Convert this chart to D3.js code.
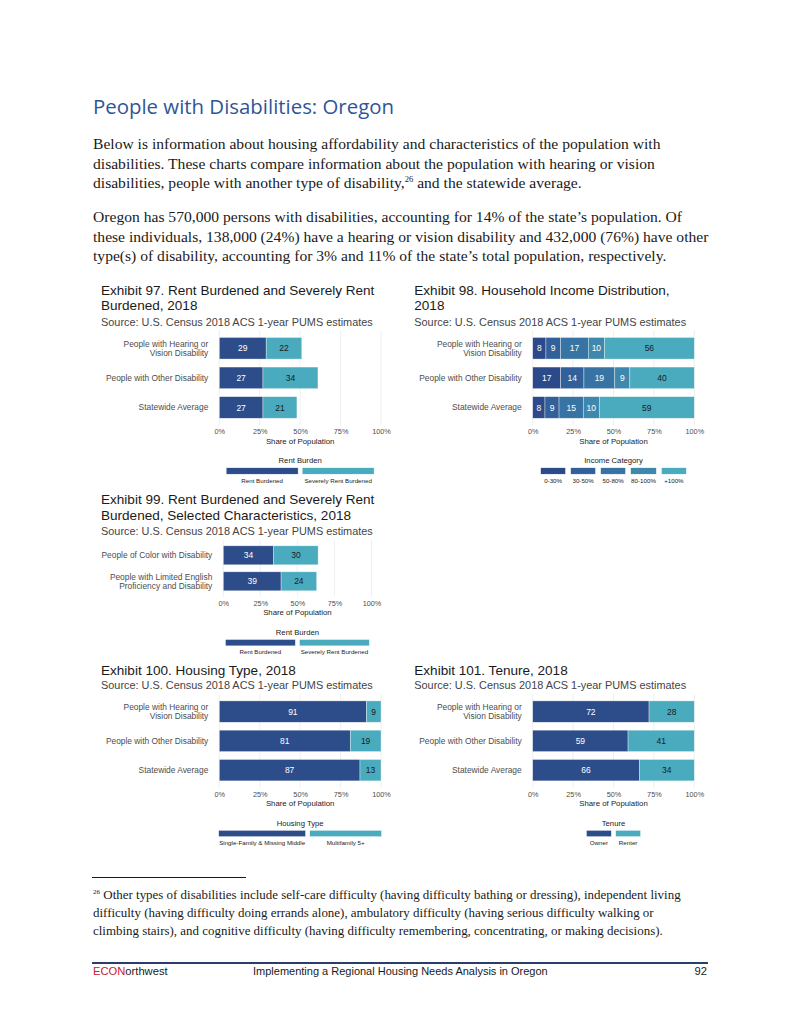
<!DOCTYPE html>
<html>
<head>
<meta charset="utf-8">
<script src="https://cdn.jsdelivr.net/npm/d3@7/dist/d3.min.js"></script>
<style>
  body { margin: 0; background: #fff; }
  svg { display: block; }
</style>
</head>
<body>
<div id="page"></div>
<script>
// ---- data ----
var groupLabels = [["People with Hearing or", "Vision Disability"], ["People with Other Disability"], ["Statewide Average"]];

var rentCats = ["Rent Burdened", "Severely Rent Burdened"];
var rentBurdened = [29, 27, 27];
var severelyRentBurdened = [22, 34, 21];

var incomeCats = ["0-30%", "30-50%", "50-80%", "80-100%", "+100%"];
var income0to30 = [8.2, 17.3, 7.6];
var income30to50 = [9.0, 14.4, 8.7];
var income50to80 = [17.2, 19.1, 15.0];
var income80to100 = [10.0, 9.3, 9.9];
var incomeOver100 = [55.6, 39.9, 58.8];

var selectedLabels = [["People of Color with Disability"], ["People with Limited English", "Proficiency and Disability"]];
var selRentBurdened = [34, 39];
var selSeverelyBurdened = [30, 24];

var housingCats = ["Single-Family & Missing Middle", "Multifamily 5+"];
var singleFamily = [91, 81, 87];
var multifamily = [9, 19, 13];

var tenureCats = ["Owner", "Renter"];
var owner = [72, 59, 66];
var renter = [28, 41, 34];

var shareTicks = [0, 25, 50, 75, 100];

// ---- page ----
var W = 800, H = 1035;
var svg = d3.select("#page").append("svg")
    .attr("width", W)
    .attr("height", H);

var serif = "'Liberation Serif', 'DejaVu Serif', serif";
var sans = "'Liberation Sans', Arial, sans-serif";
var dark = "#2c4c8a", teal = "#4aabbf";

svg.append("text")
    .attr("x", 93).attr("y", 113.5)
    .attr("font-family", "'Open Sans', sans-serif")
    .attr("font-size", 20.4)
    .attr("fill", "#2f5597")
    .text("People with Disabilities: Oregon");

var para = [
    {y: 148.5, parts: ["Below is information about housing affordability and characteristics of the population with"]},
    {y: 168.5, parts: ["disabilities. These charts compare information about the population with hearing or vision"]},
    {y: 188, parts: ["disabilities, people with another type of disability,", "^26", " and the statewide average."]},
    {y: 222, parts: ["Oregon has 570,000 persons with disabilities, accounting for 14% of the state\u2019s population. Of"]},
    {y: 241.5, parts: ["these individuals, 138,000 (24%) have a hearing or vision disability and 432,000 (76%) have other"]},
    {y: 261, parts: ["type(s) of disability, accounting for 3% and 11% of the state\u2019s total population, respectively."]}
];

var footnote = [
    {y: 899, parts: ["^26", " Other types of disabilities include self-care difficulty (having difficulty bathing or dressing), independent living"]},
    {y: 917, parts: ["difficulty (having difficulty doing errands alone), ambulatory difficulty (having serious difficulty walking or"]},
    {y: 935, parts: ["climbing stairs), and cognitive difficulty (having difficulty remembering, concentrating, or making decisions)."]}
];

function writeLines(lines, size) {
    lines.forEach(function(l) {
        var t = svg.append("text")
            .attr("x", 93).attr("y", l.y)
            .attr("font-family", serif)
            .attr("font-size", size)
            .attr("fill", "#1a1a1a");
        var back = 0;
        l.parts.forEach(function(p) {
            if (p[0] == "^") {
                t.append("tspan").attr("font-size", size * 0.55).attr("dy", -size * 0.38).text(p.slice(1));
                back = size * 0.38;
            } else {
                t.append("tspan").attr("dy", back).text(p);
                back = 0;
            }
        });
    });
}
writeLines(para, 15.6);
writeLines(footnote, 12.95);

svg.append("line")
    .attr("x1", 92).attr("x2", 246)
    .attr("y1", 877.5).attr("y2", 877.5)
    .attr("stroke", "#000").attr("stroke-width", 0.9);

svg.append("line")
    .attr("x1", 92).attr("x2", 708)
    .attr("y1", 963).attr("y2", 963)
    .attr("stroke", "#2b3d6b").attr("stroke-width", 2);

var foot = svg.append("text")
    .attr("x", 93).attr("y", 975)
    .attr("font-family", sans).attr("font-size", 11.2);
foot.append("tspan").attr("fill", "#c8202f").text("ECON");
foot.append("tspan").attr("fill", "#1a1a1a").text("orthwest");

svg.append("text")
    .attr("x", 253).attr("y", 975)
    .attr("font-family", sans).attr("font-size", 11).attr("fill", "#1a1a1a")
    .text("Implementing a Regional Housing Needs Analysis in Oregon");

svg.append("text")
    .attr("x", 707).attr("y", 975)
    .attr("text-anchor", "end")
    .attr("font-family", sans).attr("font-size", 11.2).attr("fill", "#1a1a1a")
    .text("92");

// ---- one stacked bar exhibit ----
function drawChart(c) {
    var g = svg.append("g");

    c.title.forEach(function(t, i) {
        g.append("text")
            .attr("x", c.left).attr("y", c.titleY[i])
            .attr("font-family", sans).attr("font-size", 13.55).attr("fill", "#1a1a1a")
            .text(t);
    });
    g.append("text")
        .attr("x", c.left).attr("y", c.sourceY)
        .attr("font-family", sans).attr("font-size", 10.9).attr("fill", "#444")
        .text("Source: U.S. Census 2018 ACS 1-year PUMS estimates");

    var n = c.labels.length;
    var bottom = c.top + c.step * (n - 1 + 1.2);
    var x = d3.scaleLinear().domain([0, 100]).range([c.x0, c.x1]);
    var y = d3.scalePoint().domain(d3.range(n)).range([c.top, bottom]).padding(0.6);
    var bh = c.step * 0.73;

    g.selectAll(".grid").data(shareTicks).enter().append("line")
        .attr("x1", function(d) { return x(d); })
        .attr("x2", function(d) { return x(d); })
        .attr("y1", c.top).attr("y2", bottom)
        .attr("stroke", "#ebebeb").attr("stroke-width", 0.8);

    var table = c.labels.map(function(l, i) {
        var row = {};
        c.cats.forEach(function(k, j) { row[k] = c.series[j][i]; });
        return row;
    });
    var stacked = d3.stack().keys(c.cats)(table);

    var layers = g.selectAll(".layer").data(stacked).enter().append("g");
    layers.selectAll("rect").data(function(d) { return d; }).enter().append("rect")
        .attr("x", function(d) { return x(d[0]); })
        .attr("y", function(d, i) { return y(i) - bh / 2; })
        .attr("width", function(d) { return x(d[1]) - x(d[0]); })
        .attr("height", bh)
        .attr("fill", function() { return c.colors[d3.select(this.parentNode).datum().index]; })
        .attr("stroke", "#fff").attr("stroke-opacity", 0.6).attr("stroke-width", 0.6);

    layers.selectAll("text").data(function(d) { return d; }).enter().append("text")
        .attr("x", function(d) { return (x(d[0]) + x(d[1])) / 2; })
        .attr("y", function(d, i) { return y(i) + 3.1; })
        .attr("text-anchor", "middle")
        .attr("font-family", sans).attr("font-size", 8.5)
        .attr("fill", function() { return c.textColors[d3.select(this.parentNode).datum().index]; })
        .text(function(d) { return Math.round(d[1] - d[0]); });

    // category labels
    c.labels.forEach(function(lines, i) {
        var t = g.append("text")
            .attr("text-anchor", "end")
            .attr("font-family", sans).attr("font-size", 8.4).attr("fill", "#4d4d4d");
        lines.forEach(function(s, k) {
            t.append("tspan")
                .attr("x", c.x0 - 11)
                .attr("y", y(i) + 3 + (k - (lines.length - 1) / 2) * 9.5)
                .text(s);
        });
    });

    var axis = g.append("g")
        .attr("transform", "translate(0," + bottom + ")")
        .call(d3.axisBottom(x).tickValues(shareTicks).tickSize(0).tickPadding(4)
            .tickFormat(function(d) { return d + "%"; }));
    axis.select(".domain").remove();
    axis.selectAll("text")
        .attr("font-family", sans).attr("font-size", 7.3).attr("fill", "#4d4d4d");

    var mid = (c.x0 + c.x1) / 2;
    g.append("text")
        .attr("x", mid).attr("y", bottom + 18.3)
        .attr("text-anchor", "middle")
        .attr("font-family", sans).attr("font-size", 7.8).attr("fill", "#1a1a1a")
        .text("Share of Population");

    // legend
    g.append("text")
        .attr("x", mid).attr("y", bottom + 37.8)
        .attr("text-anchor", "middle")
        .attr("font-family", sans).attr("font-size", 7.7).attr("fill", "#1a1a1a")
        .text(c.legendTitle);

    var labs = c.cats.map(function(k) {
        return g.append("text")
            .attr("text-anchor", "middle")
            .attr("font-family", sans).attr("font-size", 6.2).attr("fill", "#1a1a1a")
            .text(k);
    });
    var widths = labs.map(function(l) { return Math.max(c.keyWidth, l.node().getComputedTextLength() + 1); });
    var total = d3.sum(widths) + c.keyGap * (widths.length - 1);
    var kx = mid - total / 2;
    widths.forEach(function(w, j) {
        g.append("rect")
            .attr("x", kx).attr("y", bottom + 42.5)
            .attr("width", w).attr("height", 6.5)
            .attr("fill", c.colors[j])
            .attr("stroke", "#fff").attr("stroke-width", 0.5);
        labs[j].attr("x", kx + w / 2).attr("y", bottom + 57.3);
        kx += w + c.keyGap;
    });
}

drawChart({
    title: ["Exhibit 97. Rent Burdened and Severely Rent", "Burdened, 2018"], titleY: [295, 310], sourceY: 325.5,
    left: 101, x0: 219.3, x1: 381, top: 330.5, step: 29.6,
    labels: groupLabels, cats: rentCats, series: [rentBurdened, severelyRentBurdened],
    colors: [dark, teal], textColors: ["#fff", "#1a1a1a"],
    legendTitle: "Rent Burden", keyWidth: 72, keyGap: 4
});

drawChart({
    title: ["Exhibit 98. Household Income Distribution,", "2018"], titleY: [295, 310], sourceY: 325.5,
    left: 414.3, x0: 532.7, x1: 694.3, top: 330.5, step: 29.6,
    labels: groupLabels, cats: incomeCats,
    series: [income0to30, income30to50, income50to80, income80to100, incomeOver100],
    colors: ["#2c4a89", "#31609a", "#3774a4", "#3f88ad", teal],
    textColors: ["#fff", "#fff", "#fff", "#fff", "#1a1a1a"],
    legendTitle: "Income Category", keyWidth: 25, keyGap: 5
});

drawChart({
    title: ["Exhibit 99. Rent Burdened and Severely Rent", "Burdened, Selected Characteristics, 2018"], titleY: [504, 520], sourceY: 535,
    left: 101, x0: 223.3, x1: 371.5, top: 539.7, step: 26,
    labels: selectedLabels, cats: rentCats, series: [selRentBurdened, selSeverelyBurdened],
    colors: [dark, teal], textColors: ["#fff", "#1a1a1a"],
    legendTitle: "Rent Burden", keyWidth: 70, keyGap: 4
});

drawChart({
    title: ["Exhibit 100. Housing Type, 2018"], titleY: [675], sourceY: 689,
    left: 101, x0: 219.3, x1: 381, top: 694, step: 29.3,
    labels: groupLabels, cats: housingCats, series: [singleFamily, multifamily],
    colors: [dark, teal], textColors: ["#fff", "#1a1a1a"],
    legendTitle: "Housing Type", keyWidth: 72, keyGap: 4
});

drawChart({
    title: ["Exhibit 101. Tenure, 2018"], titleY: [675], sourceY: 689,
    left: 414.3, x0: 532.7, x1: 694.3, top: 694, step: 29.3,
    labels: groupLabels, cats: tenureCats, series: [owner, renter],
    colors: [dark, teal], textColors: ["#fff", "#1a1a1a"],
    legendTitle: "Tenure", keyWidth: 25, keyGap: 4.3
});
</script>
</body>
</html>
